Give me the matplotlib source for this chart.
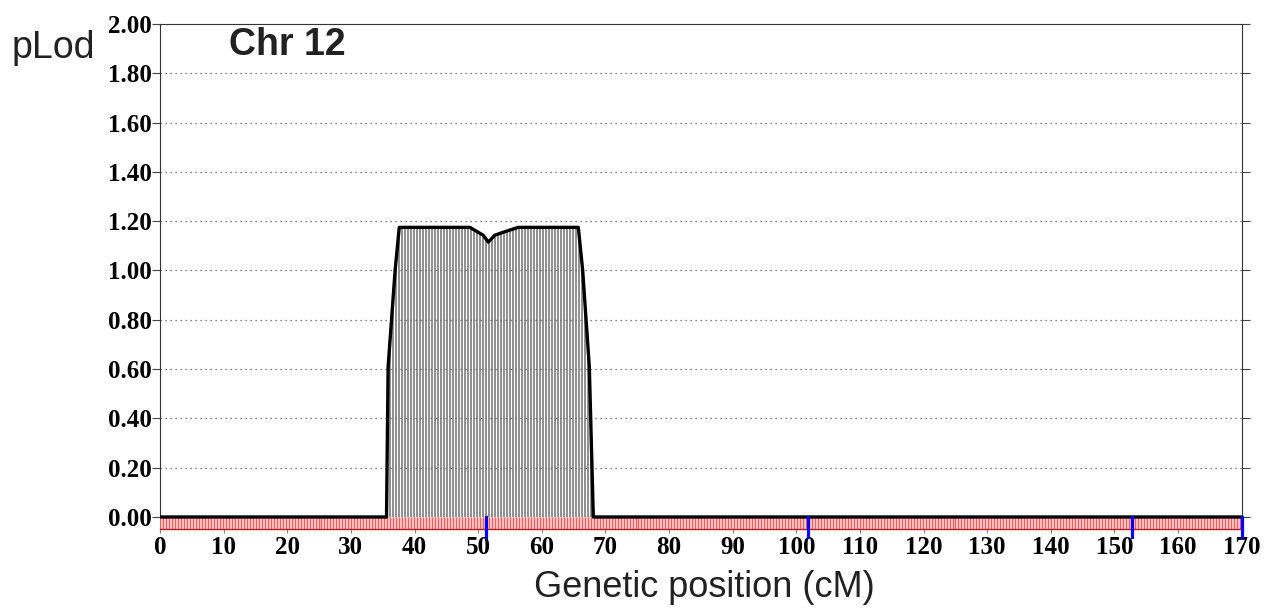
import numpy as np
import matplotlib.pyplot as plt

# pLod profile for chromosome 12 (cM, value)
pos = [0, 35.6, 35.85, 36.95, 37.6, 48.7, 50.8, 51.6, 52.6, 54.5, 56.3,
       65.74, 66.43, 67.47, 68.1, 170]
plod = [0, 0, 0.61, 1.0, 1.175, 1.175, 1.143, 1.115, 1.143, 1.16, 1.175,
        1.175, 1.0, 0.61, 0, 0]

# marker positions (blue ticks)
markers = [51.2, 101.8, 152.8, 170]

xticks = list(range(0, 171, 10))
yticks = [0, 0.2, 0.4, 0.6, 0.8, 1.0, 1.2, 1.4, 1.6, 1.8, 2.0]

chrom = 'Chr 12'
xmax = 170
strip = -0.0487

fig = plt.figure(figsize=(12.71, 6.12), dpi=100)
ax = fig.add_axes([160 / 1271, 1 - 529 / 612, (1241.7 - 160) / 1271, (529 - 24) / 612])

# evaluation points: grey hatching under the profile, red strip below zero
grid = np.arange(0, xmax + 0.01, 0.47)
ax.axhspan(strip, 0, color='#ffd6d6', lw=0, zorder=0)
ax.vlines(grid, strip, 0, color='#f25c5c', lw=1.0, zorder=1)

h = np.interp(grid, pos, plod)
ax.vlines(grid[h > 0], 0, h[h > 0], color='#707070', lw=1.1, zorder=2)

ax.plot(pos, plod, color='black', lw=2.4, zorder=4, solid_joinstyle='round')

for m in markers:
    ax.plot([m, m], [0, -0.081], color='#0000ff', lw=2.3, zorder=5, clip_on=False)

ax.set_xlim(0, xmax)
ax.set_ylim(strip, 2.0)

for y in yticks[1:-1]:
    ax.axhline(y, color='#555555', lw=0.9, ls=(0, (1, 3)), zorder=0)

ax.set_yticks(yticks)
ax.set_yticklabels(['%.2f' % v for v in yticks],
                   family='Liberation Serif', weight='bold', fontsize=18)
ax.set_xticks(xticks)
ax.set_xticklabels([str(v) for v in xticks],
                   family='Liberation Serif', weight='bold', fontsize=18)

ax.tick_params(axis='y', direction='out', length=6, width=0.8, pad=0, color='#444444',
               right=True)
ax.tick_params(axis='x', direction='out', length=3, width=0.8, pad=2, color='#888888')

ax.spines['left'].set_bounds(0, 2.0)
ax.spines['right'].set_bounds(0, 2.0)
for s in ['left', 'right', 'top']:
    ax.spines[s].set_color('#333333')
    ax.spines[s].set_linewidth(0.8)
ax.spines['bottom'].set_color('#b02020')
ax.spines['bottom'].set_linewidth(1.0)

fig.text(12 / 1271, 1 - 58 / 612, 'pLod', family='Liberation Sans', fontsize=27,
         ha='left', va='baseline', color='#222222')
fig.text(229 / 1271, 1 - 55 / 612, chrom, family='Liberation Sans', fontsize=27,
         weight='bold', ha='left', va='baseline', color='#222222')
fig.text(704 / 1271, 1 - 597 / 612, 'Genetic position (cM)', family='Liberation Sans',
         fontsize=26, ha='center', va='baseline', color='#222222')

fig.savefig('out.png', dpi=100)
